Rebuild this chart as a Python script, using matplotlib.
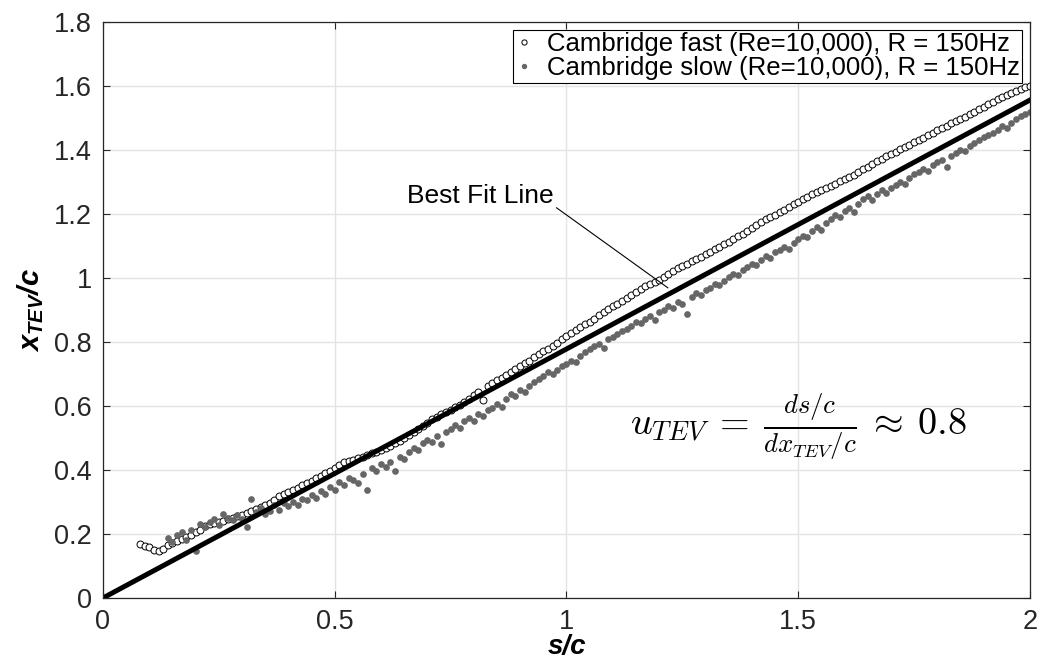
import matplotlib
matplotlib.use('Agg')

import matplotlib.pyplot as plt

plt.rcParams['font.family'] = ['Liberation Sans', 'DejaVu Sans']
plt.rcParams['mathtext.fontset'] = 'custom'
plt.rcParams['mathtext.it'] = 'Liberation Sans:italic:bold'
plt.rcParams['mathtext.rm'] = 'Liberation Sans:bold'

# s/c positions and x_TEV/c values
s_fast = [0.08, 0.09, 0.10, 0.11, 0.12, 0.13, 0.14, 0.15, 0.16, 0.17,
          0.18, 0.19, 0.20, 0.21, 0.22, 0.23, 0.24, 0.25, 0.26, 0.27,
          0.28, 0.29, 0.30, 0.31, 0.32, 0.33, 0.34, 0.35, 0.36, 0.37,
          0.38, 0.39, 0.40, 0.41, 0.42, 0.43, 0.44, 0.45, 0.46, 0.47,
          0.48, 0.49, 0.50, 0.51, 0.52, 0.53, 0.54, 0.55, 0.56, 0.57,
          0.58, 0.59, 0.60, 0.61, 0.62, 0.63, 0.64, 0.65, 0.66, 0.67,
          0.68, 0.69, 0.70, 0.71, 0.72, 0.73, 0.74, 0.75, 0.76, 0.77,
          0.78, 0.79, 0.80, 0.81, 0.82, 0.83, 0.84, 0.85, 0.86, 0.87,
          0.88, 0.89, 0.90, 0.91, 0.92, 0.93, 0.94, 0.95, 0.96, 0.97,
          0.98, 0.99, 1.00, 1.01, 1.02, 1.03, 1.04, 1.05, 1.06, 1.07,
          1.08, 1.09, 1.10, 1.11, 1.12, 1.13, 1.14, 1.15, 1.16, 1.17,
          1.18, 1.19, 1.20, 1.21, 1.22, 1.23, 1.24, 1.25, 1.26, 1.27,
          1.28, 1.29, 1.30, 1.31, 1.32, 1.33, 1.34, 1.35, 1.36, 1.37,
          1.38, 1.39, 1.40, 1.41, 1.42, 1.43, 1.44, 1.45, 1.46, 1.47,
          1.48, 1.49, 1.50, 1.51, 1.52, 1.53, 1.54, 1.55, 1.56, 1.57,
          1.58, 1.59, 1.60, 1.61, 1.62, 1.63, 1.64, 1.65, 1.66, 1.67,
          1.68, 1.69, 1.70, 1.71, 1.72, 1.73, 1.74, 1.75, 1.76, 1.77,
          1.78, 1.79, 1.80, 1.81, 1.82, 1.83, 1.84, 1.85, 1.86, 1.87,
          1.88, 1.89, 1.90, 1.91, 1.92, 1.93, 1.94, 1.95, 1.96, 1.97,
          1.98, 1.99, 2.00]
x_fast = [0.168, 0.163, 0.158, 0.150, 0.146, 0.152, 0.165, 0.172, 0.178, 0.184,
          0.192, 0.197, 0.205, 0.214, 0.226, 0.230, 0.234, 0.238, 0.242, 0.246,
          0.250, 0.255, 0.260, 0.266, 0.272, 0.278, 0.284, 0.290, 0.298, 0.306,
          0.318, 0.324, 0.332, 0.338, 0.345, 0.352, 0.360, 0.367, 0.374, 0.382,
          0.390, 0.398, 0.406, 0.416, 0.424, 0.428, 0.432, 0.436, 0.441, 0.446,
          0.452, 0.457, 0.462, 0.468, 0.474, 0.483, 0.492, 0.500, 0.509, 0.518,
          0.527, 0.537, 0.548, 0.558, 0.566, 0.574, 0.581, 0.588, 0.596, 0.603,
          0.611, 0.622, 0.634, 0.645, 0.618, 0.662, 0.672, 0.680, 0.688, 0.697,
          0.705, 0.715, 0.724, 0.733, 0.742, 0.752, 0.762, 0.771, 0.779, 0.788,
          0.798, 0.808, 0.818, 0.829, 0.837, 0.846, 0.856, 0.864, 0.873, 0.884,
          0.894, 0.902, 0.911, 0.918, 0.928, 0.937, 0.946, 0.955, 0.966, 0.975,
          0.981, 0.986, 0.994, 1.002, 1.012, 1.021, 1.030, 1.037, 1.045, 1.052,
          1.060, 1.067, 1.074, 1.082, 1.090, 1.098, 1.106, 1.114, 1.122, 1.130,
          1.138, 1.146, 1.156, 1.166, 1.176, 1.183, 1.190, 1.198, 1.206, 1.214,
          1.222, 1.230, 1.239, 1.247, 1.254, 1.262, 1.268, 1.274, 1.281, 1.288,
          1.294, 1.302, 1.310, 1.317, 1.323, 1.331, 1.340, 1.348, 1.356, 1.364,
          1.372, 1.380, 1.388, 1.395, 1.402, 1.410, 1.417, 1.424, 1.431, 1.438,
          1.446, 1.453, 1.461, 1.468, 1.476, 1.483, 1.490, 1.497, 1.504, 1.511,
          1.519, 1.527, 1.535, 1.543, 1.550, 1.558, 1.565, 1.571, 1.577, 1.584,
          1.590, 1.596, 1.601]

s_slow = [0.14, 0.15, 0.16, 0.17, 0.18, 0.19, 0.20, 0.21, 0.22, 0.23,
          0.24, 0.25, 0.26, 0.27, 0.28, 0.29, 0.30, 0.31, 0.32, 0.33,
          0.34, 0.35, 0.36, 0.37, 0.38, 0.39, 0.40, 0.41, 0.42, 0.43,
          0.44, 0.45, 0.46, 0.47, 0.48, 0.49, 0.50, 0.51, 0.52, 0.53,
          0.54, 0.55, 0.56, 0.57, 0.58, 0.59, 0.60, 0.61, 0.62, 0.63,
          0.64, 0.65, 0.66, 0.67, 0.68, 0.69, 0.70, 0.71, 0.72, 0.73,
          0.74, 0.75, 0.76, 0.77, 0.78, 0.79, 0.80, 0.81, 0.82, 0.83,
          0.84, 0.85, 0.86, 0.87, 0.88, 0.89, 0.90, 0.91, 0.92, 0.93,
          0.94, 0.95, 0.96, 0.97, 0.98, 0.99, 1.00, 1.01, 1.02, 1.03,
          1.04, 1.05, 1.06, 1.07, 1.08, 1.09, 1.10, 1.11, 1.12, 1.13,
          1.14, 1.15, 1.16, 1.17, 1.18, 1.19, 1.20, 1.21, 1.22, 1.23,
          1.24, 1.25, 1.26, 1.27, 1.28, 1.29, 1.30, 1.31, 1.32, 1.33,
          1.34, 1.35, 1.36, 1.37, 1.38, 1.39, 1.40, 1.41, 1.42, 1.43,
          1.44, 1.45, 1.46, 1.47, 1.48, 1.49, 1.50, 1.51, 1.52, 1.53,
          1.54, 1.55, 1.56, 1.57, 1.58, 1.59, 1.60, 1.61, 1.62, 1.63,
          1.64, 1.65, 1.66, 1.67, 1.68, 1.69, 1.70, 1.71, 1.72, 1.73,
          1.74, 1.75, 1.76, 1.77, 1.78, 1.79, 1.80, 1.81, 1.82, 1.83,
          1.84, 1.85, 1.86, 1.87, 1.88, 1.89, 1.90, 1.91, 1.92, 1.93,
          1.94, 1.95, 1.96, 1.97, 1.98, 1.99, 2.00]
x_slow = [0.188, 0.176, 0.196, 0.205, 0.182, 0.214, 0.147, 0.232, 0.221, 0.238,
          0.247, 0.229, 0.262, 0.251, 0.244, 0.258, 0.246, 0.222, 0.308, 0.268,
          0.281, 0.262, 0.272, 0.290, 0.276, 0.296, 0.286, 0.301, 0.292, 0.310,
          0.305, 0.322, 0.314, 0.333, 0.326, 0.346, 0.338, 0.361, 0.352, 0.376,
          0.368, 0.360, 0.386, 0.338, 0.407, 0.396, 0.418, 0.409, 0.425, 0.398,
          0.442, 0.433, 0.455, 0.470, 0.462, 0.484, 0.495, 0.486, 0.505, 0.480,
          0.518, 0.528, 0.540, 0.531, 0.553, 0.561, 0.552, 0.574, 0.568, 0.586,
          0.594, 0.607, 0.598, 0.622, 0.638, 0.630, 0.651, 0.645, 0.663, 0.674,
          0.684, 0.693, 0.706, 0.700, 0.714, 0.725, 0.731, 0.742, 0.738, 0.756,
          0.768, 0.778, 0.786, 0.795, 0.782, 0.808, 0.816, 0.826, 0.833, 0.842,
          0.850, 0.862, 0.858, 0.872, 0.880, 0.868, 0.893, 0.900, 0.912, 0.906,
          0.925, 0.918, 0.888, 0.940, 0.952, 0.946, 0.962, 0.970, 0.981, 0.977,
          0.992, 1.003, 1.012, 1.008, 1.024, 1.034, 1.043, 1.040, 1.056, 1.070,
          1.064, 1.082, 1.088, 1.098, 1.092, 1.110, 1.122, 1.130, 1.127, 1.146,
          1.158, 1.150, 1.172, 1.184, 1.196, 1.190, 1.210, 1.218, 1.206, 1.232,
          1.248, 1.256, 1.244, 1.262, 1.274, 1.266, 1.282, 1.292, 1.300, 1.295,
          1.312, 1.324, 1.332, 1.340, 1.334, 1.352, 1.362, 1.370, 1.346, 1.382,
          1.392, 1.400, 1.396, 1.413, 1.422, 1.432, 1.440, 1.446, 1.452, 1.462,
          1.474, 1.468, 1.484, 1.496, 1.506, 1.512, 1.520]

# best fit line end points
s_fit = [0.0, 2.0]
x_fit = [0.0, 1.556]

fig = plt.figure(figsize=(10.39, 6.62), dpi=100)
ax = fig.add_axes([0.0991, 0.0967, 0.8922, 0.8701])

ax.plot(s_fast, x_fast, 'o', mfc='white', mec='black', mew=0.7, ms=5,
        label='Cambridge fast (Re=10,000), R = 150Hz')
ax.plot(s_slow, x_slow, 'o', mfc='#666666', mec='#666666', ms=3.8,
        label='Cambridge slow (Re=10,000), R = 150Hz')
ax.plot(s_fit, x_fit, '-', color='black', lw=3.6)

ax.set_xlim(0, 2)
ax.set_ylim(0, 1.8)
ax.set_xticks([0, 0.5, 1, 1.5, 2])
ax.set_xticklabels(['0', '0.5', '1', '1.5', '2'])
ax.set_yticks([0, 0.2, 0.4, 0.6, 0.8, 1, 1.2, 1.4, 1.6, 1.8])
ax.set_yticklabels(['0', '0.2', '0.4', '0.6', '0.8', '1', '1.2', '1.4', '1.6', '1.8'])
ax.grid(True, color='#e3e3e3', lw=1)
ax.set_axisbelow(True)
ax.tick_params(direction='in', length=5, width=0.8, top=True, right=True,
               labelsize=19.5, colors='#262626', pad=8)
for sp in ax.spines.values():
    sp.set_color('#262626')
    sp.set_linewidth(0.9)

ax.set_xlabel('s/c', fontsize=20, fontweight='bold', fontstyle='italic', labelpad=-1)
ax.set_ylabel('$x_{TEV}$/c', fontsize=21, fontweight='bold', fontstyle='italic', labelpad=6)

ax.annotate('Best Fit Line', xy=(1.219, 0.969), xytext=(0.656, 1.234),
            fontsize=19, ha='left', va='baseline',
            arrowprops=dict(arrowstyle='-', lw=0.8, color='black',
                            shrinkA=0, shrinkB=0, relpos=(1.0, 0.1)))

ax.text(1.137, 0.534, r'$u_{TEV}\:=\:\frac{ds/c}{dx_{TEV}/c}\:\approx\:0.8$',
        fontsize=27.5, ha='left', va='center', math_fontfamily='cm')

leg = ax.legend(loc='upper right', fontsize=18.5, labelspacing=0.0,
                handlelength=0.6, handletextpad=0.6, borderpad=0.1,
                borderaxespad=0.3, fancybox=False, framealpha=1,
                edgecolor='black', markerscale=0.75)
leg.get_frame().set_linewidth(0.8)

fig.savefig('out.png', dpi=100)
